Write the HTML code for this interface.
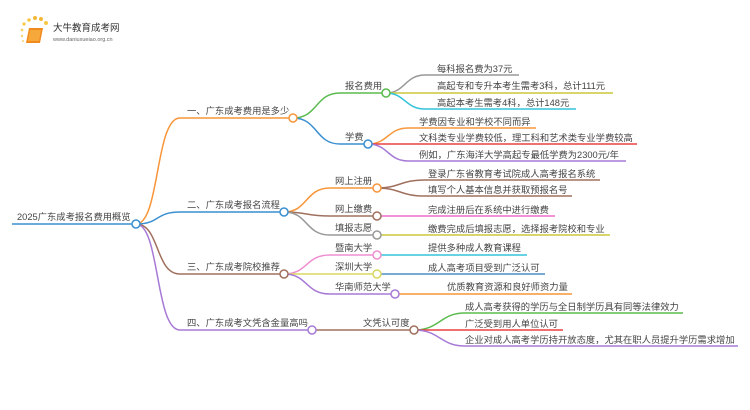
<!DOCTYPE html>
<html><head><meta charset="utf-8"><style>
html,body{margin:0;padding:0;background:#fff;}
svg{display:block;}
text{font-family:"Liberation Sans","Noto Sans CJK SC",sans-serif;font-size:9.3px;fill:#444;}
</style></head><body>
<svg width="750" height="410" viewBox="0 0 750 410" xmlns="http://www.w3.org/2000/svg">
<g>
<circle cx="24" cy="24" r="1.6" fill="#f7c843"/><circle cx="29" cy="20" r="1.8" fill="#f7c843"/><circle cx="35" cy="18" r="2" fill="#f5b836"/><circle cx="41" cy="19" r="2" fill="#f5b836"/><circle cx="46" cy="23" r="2" fill="#f7c843"/><circle cx="22" cy="30" r="1.4" fill="#f7d36a"/><circle cx="22" cy="36" r="1.2" fill="#f7d36a"/><circle cx="23" cy="41" r="1" fill="#f7d36a"/>
<path d="M29 28 L43 28 L40 43 L26 43 Z" fill="#f08a1c"/>
<path d="M30 30 L41 30 L39 41 L28 41 Z" fill="#f6a93a"/>
<text x="53" y="31" style="font-size:9.5px;fill:#333">大牛教育成考网</text>
<text x="53" y="41" style="font-size:5.5px;fill:#666">www.daniuxueiao.org.cn</text>
</g>
<g fill="none" stroke-width="1.5">
<path d="M12 224 H132" stroke="#3a8fd0"/>
<path d="M136 224 C160 224,155 118,180 118 H289" stroke="#f7963a"/>
<path d="M136 224 C160 224,155 212,180 212 H280" stroke="#3a8fd0"/>
<path d="M136 224 C160 224,155 274,180 274 H280" stroke="#a0705e"/>
<path d="M136 224 C160 224,155 330,180 330 H308" stroke="#a77ad6"/>
<path d="M293 118 C318 118,315 93,340 93 H382" stroke="#5bbb4f"/>
<path d="M293 118 C318 118,315 144,340 144 H364" stroke="#3a8fd0"/>
<path d="M386 93 C405 93,405 75,425 75 H519" stroke="#999"/>
<path d="M386 93 H613" stroke="#c8c83c"/>
<path d="M386 93 C405 93,405 109,425 109 H576" stroke="#33c3d9"/>
<path d="M368 144 C388 144,388 128,408 128 H536" stroke="#f7963a"/>
<path d="M368 144 H637" stroke="#e84040"/>
<path d="M368 144 C388 144,388 161,408 161 H626" stroke="#a77ad6"/>
<path d="M284 212 C308 212,305 188,330 188 H373" stroke="#f7963a"/>
<path d="M284 212 C308 212,305 216,330 216 H373" stroke="#a0705e"/>
<path d="M284 212 C308 212,305 235,330 235 H373" stroke="#999"/>
<path d="M377 188 C400 188,400 180,425 180 H600" stroke="#a0705e"/>
<path d="M377 188 C400 188,400 196,425 196 H572" stroke="#a0705e"/>
<path d="M381 216 H555" stroke="#ee6fc6"/>
<path d="M381 235 H610" stroke="#c8c83c"/>
<path d="M284 274 C308 274,305 255,330 255 H373" stroke="#ee8fd0"/>
<path d="M284 274 H373" stroke="#d8d860"/>
<path d="M284 274 C308 274,305 294,330 294 H391" stroke="#a77ad6"/>
<path d="M381 255 H527" stroke="#33c3d9"/>
<path d="M381 274 H545" stroke="#4a8fc8"/>
<path d="M399 294 H572" stroke="#f7963a"/>
<path d="M316 330 H410" stroke="#a0705e"/>
<path d="M414 330 C440 330,440 313,465 313 H683" stroke="#5bbb4f"/>
<path d="M414 330 H563" stroke="#e84040"/>
<path d="M414 330 C440 330,440 346,465 346 H738" stroke="#a77ad6"/>
</g>
<g fill="#fff" stroke-width="1.5">
<circle cx="136" cy="224" r="4" stroke="#3a8fd0"/>
<circle cx="293" cy="118" r="4" stroke="#f7963a"/>
<circle cx="284" cy="212" r="4" stroke="#3a8fd0"/>
<circle cx="284" cy="274" r="4" stroke="#a0705e"/>
<circle cx="312" cy="330" r="4" stroke="#a77ad6"/>
<circle cx="386" cy="93" r="4" stroke="#5bbb4f"/>
<circle cx="368" cy="144" r="4" stroke="#3a8fd0"/>
<circle cx="377" cy="188" r="4" stroke="#f7963a"/>
<circle cx="377" cy="216" r="4" stroke="#a0705e"/>
<circle cx="377" cy="235" r="4" stroke="#999"/>
<circle cx="377" cy="255" r="4" stroke="#ee8fd0"/>
<circle cx="377" cy="274" r="4" stroke="#d8d860"/>
<circle cx="395" cy="294" r="4" stroke="#a77ad6"/>
<circle cx="414" cy="330" r="4" stroke="#a0705e"/>
</g>
<text x="17" y="220">2025广东成考报名费用概览</text>
<text x="187" y="114">一、广东成考费用是多少</text>
<text x="187" y="208">二、广东成考报名流程</text>
<text x="187" y="270">三、广东成考院校推荐</text>
<text x="187" y="326">四、广东成考文凭含金量高吗</text>
<text x="345" y="89">报名费用</text>
<text x="345" y="140">学费</text>
<text x="335" y="184">网上注册</text>
<text x="335" y="212">网上缴费</text>
<text x="335" y="231">填报志愿</text>
<text x="335" y="251">暨南大学</text>
<text x="335" y="270">深圳大学</text>
<text x="335" y="290">华南师范大学</text>
<text x="363" y="326">文凭认可度</text>
<text x="437" y="72">每科报名费为37元</text>
<text x="437" y="89">高起专和专升本考生需考3科，总计111元</text>
<text x="437" y="106">高起本考生需考4科，总计148元</text>
<text x="419" y="125">学费因专业和学校不同而异</text>
<text x="419" y="141">文科类专业学费较低，理工科和艺术类专业学费较高</text>
<text x="419" y="158">例如，广东海洋大学高起专最低学费为2300元/年</text>
<text x="428" y="177">登录广东省教育考试院成人高考报名系统</text>
<text x="428" y="193">填写个人基本信息并获取预报名号</text>
<text x="428" y="213">完成注册后在系统中进行缴费</text>
<text x="428" y="232">缴费完成后填报志愿，选择报考院校和专业</text>
<text x="428" y="251">提供多种成人教育课程</text>
<text x="428" y="271">成人高考项目受到广泛认可</text>
<text x="447" y="290">优质教育资源和良好师资力量</text>
<text x="465" y="310">成人高考获得的学历与全日制学历具有同等法律效力</text>
<text x="465" y="327">广泛受到用人单位认可</text>
<text x="465" y="343">企业对成人高考学历持开放态度，尤其在职人员提升学历需求增加</text>
</svg>
</body></html>
